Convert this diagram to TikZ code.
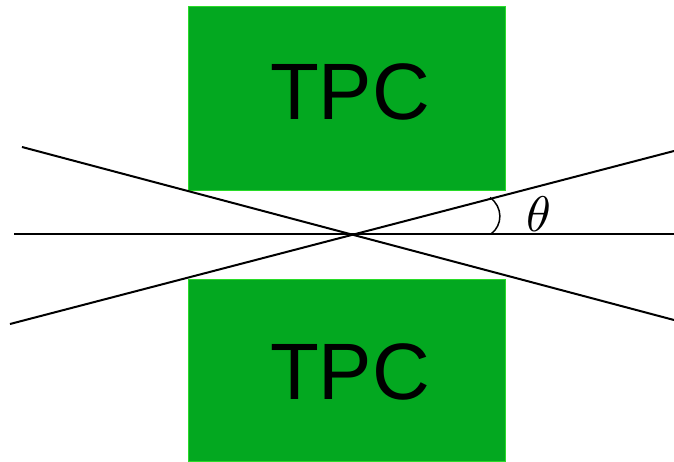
\documentclass[tikz,border=0pt]{standalone}
\usepackage{fontspec}
\setmainfont{Liberation Sans}
\usepackage{graphicx}
\definecolor{tpcgreen}{RGB}{3,168,32}
\definecolor{tpcedge}{RGB}{40,220,40}
\begin{document}
\begin{tikzpicture}[x=1pt,y=-1pt,
  tpcbox/.style={fill=tpcgreen,draw=tpcedge,line width=0.8pt},
  tpclabel/.style={font=\fontsize{80}{90}\selectfont,text=black,inner sep=0pt},
  beam/.style={line width=2pt,black}]
\useasboundingbox (0,0) rectangle (674,462);
\filldraw[tpcbox] (188,6) rectangle (505,190);
\filldraw[tpcbox] (188,279) rectangle (505,461);
\node[tpclabel] (ttop) at (350,92) {TPC};
\node[tpclabel] (tbot) at (350,372) {TPC};
\coordinate (O) at (352,234);
\coordinate (hl) at (14,234);
\coordinate (hr) at (674,234);
\coordinate (al) at (22,147);
\coordinate (ar) at (674,320);
\coordinate (bl) at (10,324);
\coordinate (br) at (674,151);
\coordinate (a1) at (491,234);
\coordinate (a2) at (490,197.5);
\draw[beam] (hl) -- (hr);
\draw[beam] (al) -- (ar);
\draw[beam] (bl) -- (br);
\draw[line width=1.5pt] (a1) .. controls (503,225) and (503,207) .. (a2);
\node[inner sep=0pt] (theta) at (539,214) {\scalebox{5}{$\theta$}};
\end{tikzpicture}
\end{document}
